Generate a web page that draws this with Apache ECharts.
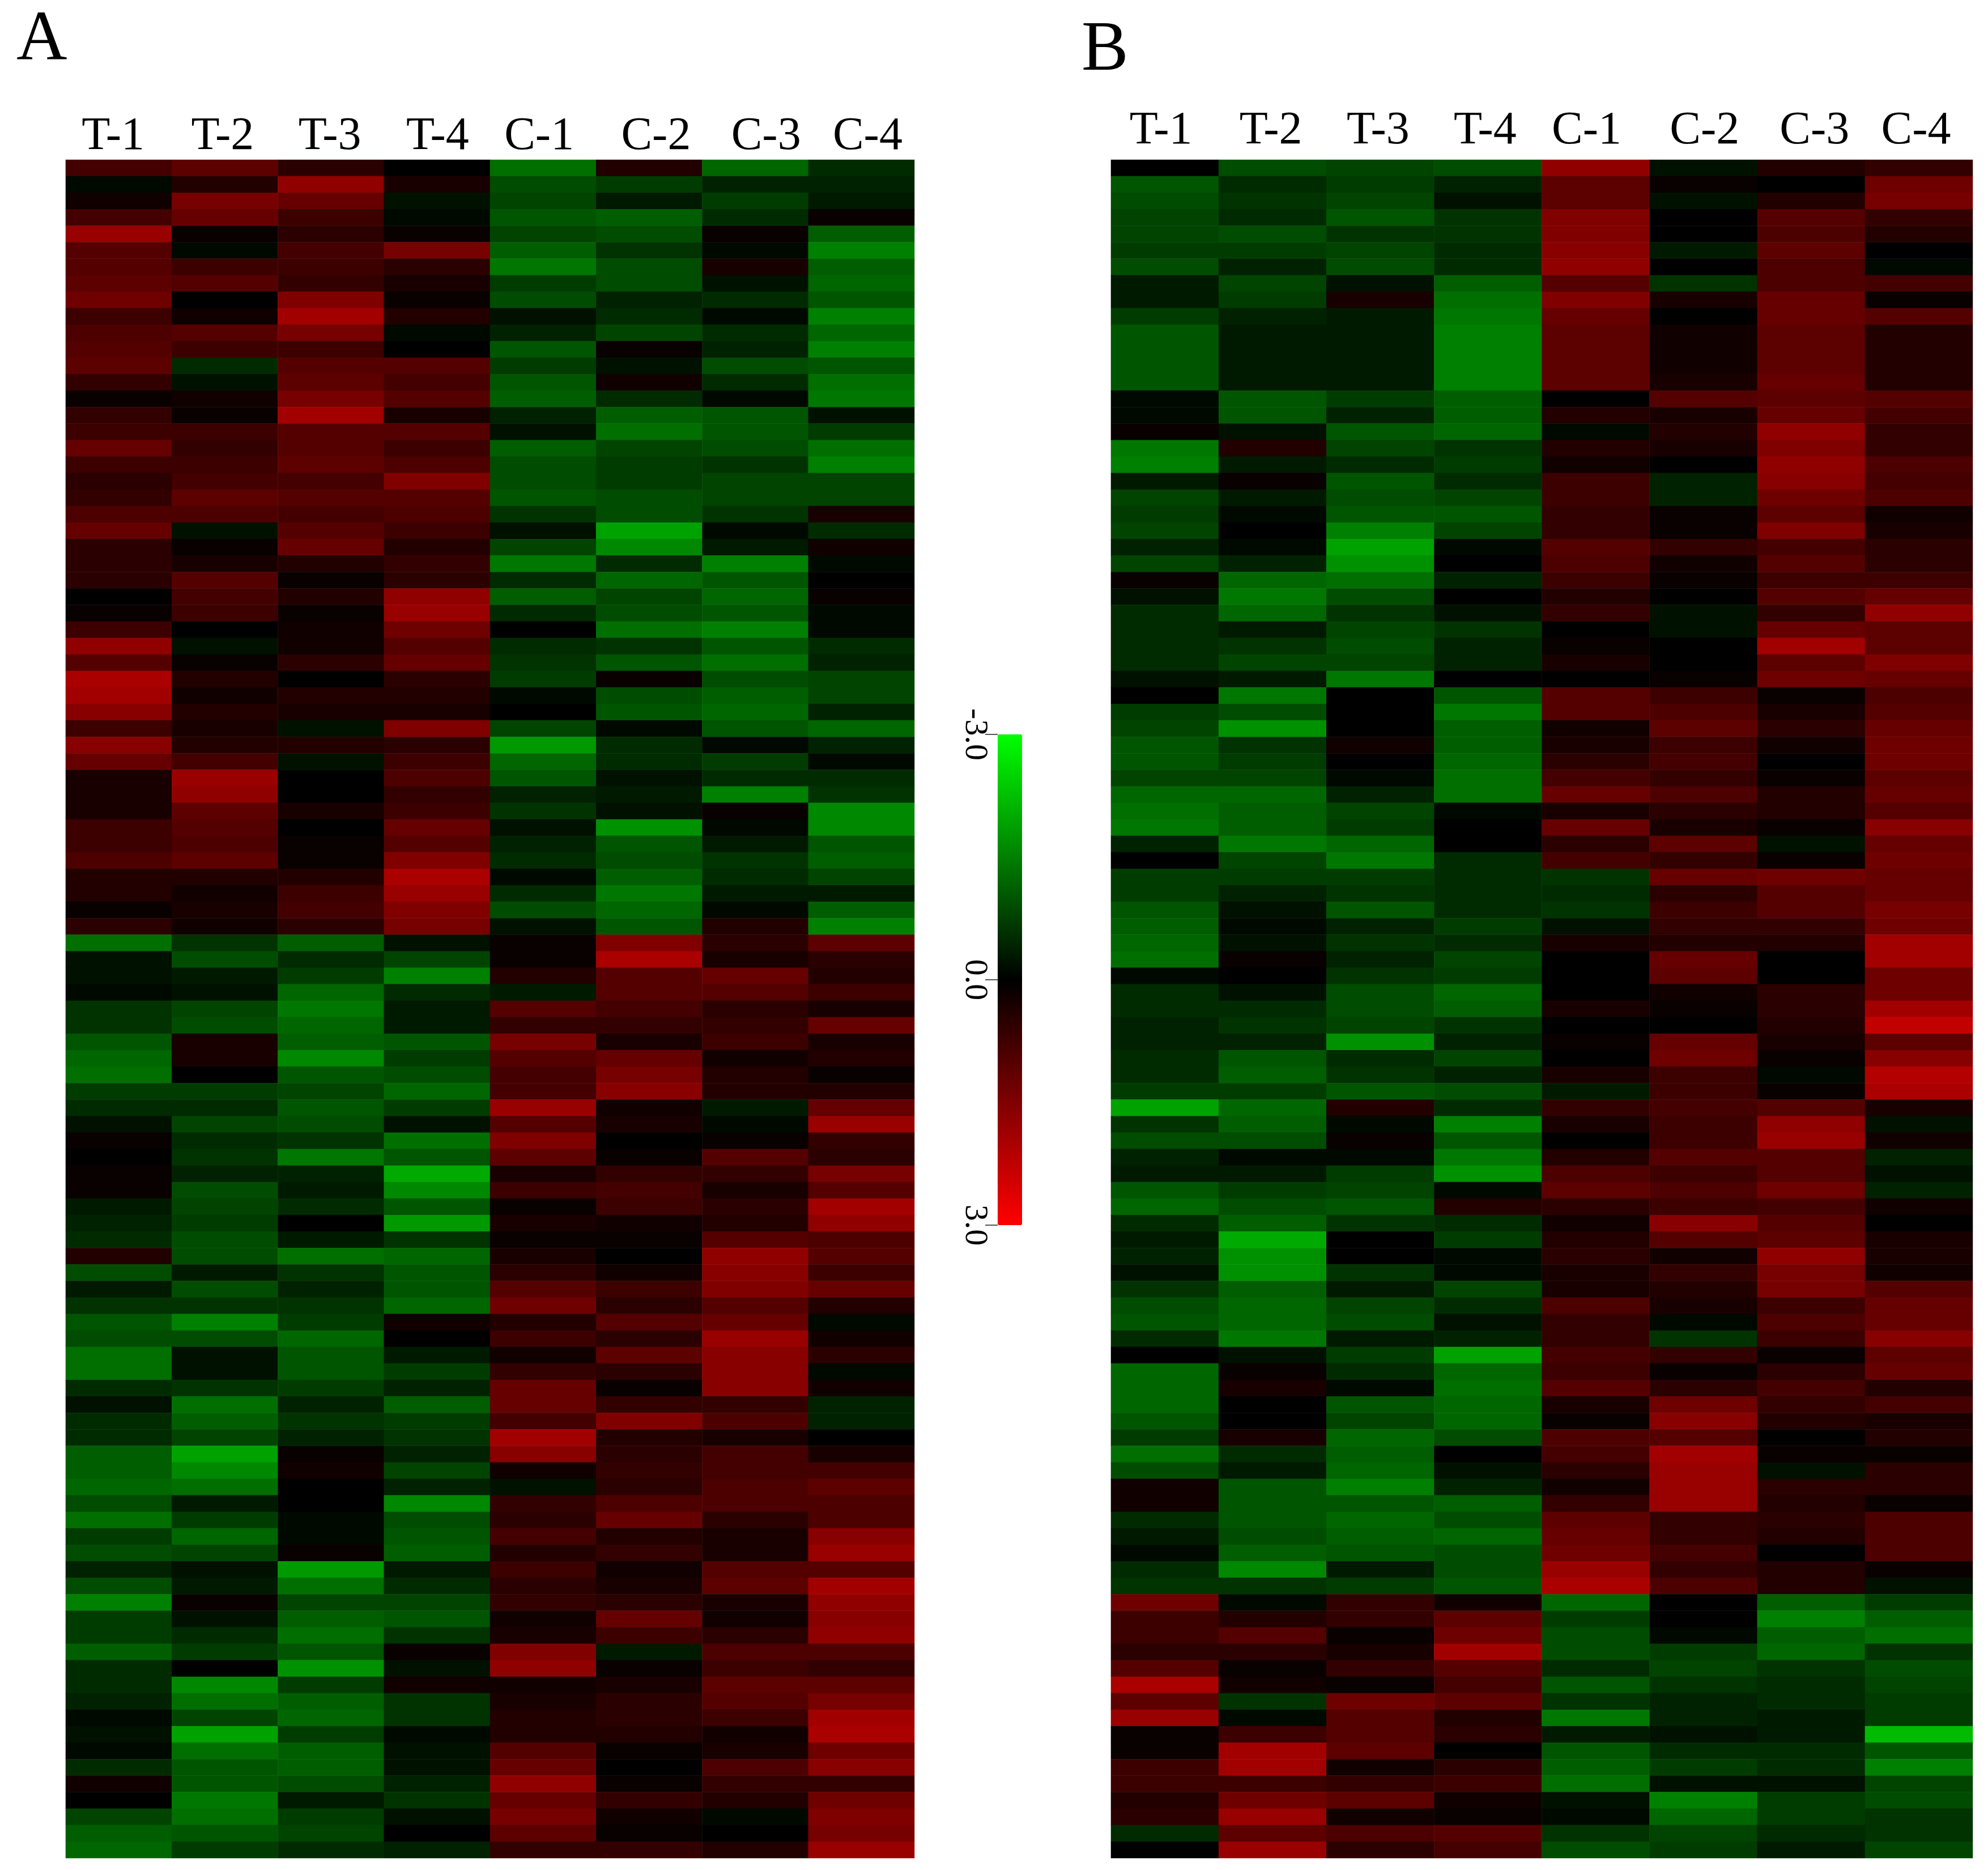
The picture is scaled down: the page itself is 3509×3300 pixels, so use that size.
<!DOCTYPE html>
<html>
<head>
<meta charset="utf-8">
<style>html,body{margin:0;padding:0;background:#fff}#c{width:3509px;height:3300px}</style>
<script src="https://cdn.jsdelivr.net/npm/echarts@6/dist/echarts.min.js"></script>
</head>
<body>
<div id="c"></div>
<script>
var samples = ['T-1','T-2','T-3','T-4','C-1','C-2','C-3','C-4'];
var scaleTicks = [-3,0,3];

// Panel A, one list per sample, rows top to bottom
var A_T1 = [0.8,-0.1,0.2,0.8,1.8,1.0,1.0,1.1,1.3,0.7,0.9,1.0,1.1,0.6,0.1,0.6,0.7,1.2,0.7,0.5,0.6,0.9,1.2,0.5,0.5,
 0.5,0,0.1,0.7,1.7,1.0,2.0,1.9,1.6,0.7,1.6,1.2,0.3,0.3,0.3,0.7,0.7,0.9,0.4,0.4,0.1,0.5,-1.3,-0.2,-0.2,-0.1,-0.6,
 -0.6,-1.0,-1.2,-1.3,-0.7,-0.5,-0.2,0.1,0,0.1,0.1,-0.3,-0.4,-0.5,0.4,-0.9,-0.3,-0.6,-1.0,-0.9,-1.3,-1.3,-0.5,-0.2,-0.5,-0.5,-1.1,-1.1,
 -1.2,-0.9,-1.3,-0.7,-0.9,-0.4,-0.9,-1.5,-0.7,-0.7,-1.1,-0.5,-0.5,-0.4,-0.1,-0.2,-0.1,-0.5,0.2,0,-0.8,-1.1,-1.2];
var A_T2 = [1.1,0.4,1.4,1.2,0.1,-0.1,0.7,1.0,0,0.2,1.0,0.7,-0.5,-0.2,0.2,0.1,0.7,0.6,0.7,0.8,1.1,0.9,-0.2,0.1,0.3,
 1.0,0.8,0.7,0,-0.2,0.1,0.4,0.2,0.4,0.3,0.4,0.8,1.8,1.7,1.1,1.0,0.9,1.1,0.4,0.2,0.3,0.2,-0.6,-0.9,-0.3,-0.2,-0.8,
 -0.9,0.3,0.3,0,-0.7,-0.5,-0.8,-0.5,-0.6,-0.4,-0.9,-0.8,-0.7,-0.9,-0.9,-0.3,-0.9,-0.6,-1.5,-0.9,-0.2,-0.2,-0.6,-1.3,-1.1,-0.8,-1.9,-1.6,
 -1.3,-0.3,-0.7,-1.2,-0.8,-0.2,-0.3,0.1,-0.2,-0.5,-0.7,0,-1.6,-1.3,-0.8,-1.9,-1.3,-1.0,-1.0,-1.4,-1.3,-1.0,-0.7];
var A_T3 = [0.5,1.7,1.2,0.7,0.5,0.8,0.7,0.6,1.5,1.9,1.4,0.7,1.0,1.1,1.4,1.9,1.0,1.0,1.1,0.8,1.0,0.8,1.0,1.2,0.4,
 0.1,0.4,0.1,0.2,0.2,0.5,0,0.4,0.3,-0.2,0.4,-0.2,0,0,0.3,0,0.1,0.1,0.4,0.7,0.8,0.5,-1.1,-0.5,-0.7,-1.2,-1.4,
 -1.2,-1.1,-1.6,-1.0,-0.8,-1.0,-0.9,-0.6,-1.4,-0.4,-0.3,-0.5,0,-0.3,-1.3,-0.6,-0.4,-0.6,-0.7,-1.2,-1.0,-1.0,-0.7,-0.4,-0.6,-0.4,0.1,0.2,
 0,0,-0.1,-0.1,0.1,-1.8,-1.3,-0.8,-1.1,-1.3,-1.0,-1.7,-0.7,-1.1,-1.2,-0.7,-1.1,-1.1,-0.9,-0.3,-0.7,-0.8,-0.5];
var A_T4 = [0,0.3,-0.2,-0.1,0.1,1.4,0.5,0.3,0.1,0.4,-0.1,0,1.0,0.8,1.0,0.3,1.0,0.7,0.9,1.5,1.0,0.9,0.7,0.4,0.6,
 0.5,1.7,1.8,1.3,1.0,1.2,0.5,0.4,0.3,1.5,0.5,0.7,0.9,0.6,0.7,1.2,1.0,1.5,2.0,1.8,1.5,1.4,-0.2,-0.8,-1.5,-0.5,-0.3,
 -0.3,-1.0,-0.7,-0.9,-1.2,-0.7,-0.2,-1.3,-1.0,-2.0,-1.6,-1.0,-1.8,-0.6,-1.2,-1.0,-1.0,-1.2,0.2,0,-0.3,-0.7,-0.4,-1.1,-0.7,-0.6,-0.4,-0.8,
 -0.4,-1.6,-0.9,-1.0,-1.1,-0.3,-0.5,-0.8,-1.0,-0.6,0.1,-0.2,0.2,-0.6,-0.6,-0.1,-0.2,-0.2,-0.4,-0.6,-0.2,0,-0.4];
var A_C1 = [-1.3,-0.9,-0.8,-1.0,-0.8,-1.1,-1.4,-0.7,-0.9,-0.2,-0.4,-1.0,-0.7,-1.0,-1.1,-0.4,-0.2,-1.1,-0.9,-0.9,-1.0,-0.6,-0.2,-0.8,-1.4,
 -0.5,-1.1,-0.5,0,-0.5,-0.6,-0.7,-0.1,0,-0.8,-1.8,-1.2,-1.0,-0.4,-0.6,-0.2,-0.4,-0.5,-0.1,-0.5,-0.9,-0.2,0.1,0.1,0.4,-0.3,1.0,
 0.6,1.4,1.0,0.8,0.8,1.8,1.0,1.5,1.1,0.3,0.7,0.1,0.3,0.1,0.3,0.5,1.0,1.3,0.4,0.7,0.2,0.6,1.2,1.2,0.8,1.9,1.6,0.2,
 -0.2,0.6,0.5,0.8,0.4,0.7,0.5,0.6,0.2,0.3,1.5,1.7,0.2,0.3,0.4,0.4,1.0,1.2,1.7,1.2,1.4,1.1,0.6];
var A_C2 = [0.4,-0.7,-0.3,-1.1,-0.9,-0.6,-0.9,-0.9,-0.4,-0.5,-0.8,0.1,-0.2,0.2,-0.5,-1.1,-1.3,-0.8,-0.7,-0.7,-0.9,-0.9,-1.9,-1.6,-0.5,
 -1.2,-0.8,-0.9,-1.3,-0.6,-1.0,0.1,-0.9,-1.0,-0.1,-0.5,-0.5,-0.2,-0.3,-0.2,-1.7,-1.0,-0.9,-1.1,-1.4,-1.2,-1.0,1.5,2.0,1.0,1.0,0.8,
 0.6,0.3,1.2,1.4,1.6,0.2,0.3,0,0.1,0.6,0.8,0.7,0.2,0.1,0,0.2,0.7,0.5,1.0,0.5,1.1,0.5,0.1,0.6,1.5,0.4,0.5,0.6,
 0.5,0.9,1.2,0.4,0.6,0.2,0.3,0.5,1.2,0.7,-0.3,0.1,0.3,0.5,0.5,0.4,0.1,0,0.1,0.6,0.2,0.1,0.6];
var A_C3 = [-1.2,-0.4,-0.7,-0.5,0.1,-0.1,0.3,-0.2,-0.5,-0.1,-0.5,-0.4,-0.9,-0.5,-0.1,-1.0,-1.0,-0.9,-0.6,-0.8,-0.8,-0.6,-0.1,-0.3,-1.5,
 -1.0,-1.2,-1.0,-1.5,-1.0,-1.3,-0.9,-1.1,-1.2,-1.0,-0.1,-0.7,-0.5,-1.5,0.1,-0.1,-0.3,-0.6,-0.5,-0.3,-0.1,0.4,0.5,0.3,1.2,1.0,0.5,
 0.6,0.7,0.2,0.4,0.4,-0.3,-0.1,0.1,1.0,0.6,0.3,0.5,0.4,1.0,1.7,1.6,1.5,1.0,1.2,1.8,1.6,1.6,1.6,0.6,0.9,0.3,0.8,0.8,
 0.9,0.9,0.5,0.3,0.3,1.0,1.1,0.3,0.2,0.5,0.9,0.7,1.1,1.0,0.7,0.2,0.3,0.9,0.6,0.4,-0.1,0,0.4];
var A_C4 = [-0.5,-0.4,-0.3,0.1,-1.1,-1.5,-1.1,-1.2,-1.0,-1.5,-1.2,-1.5,-1.0,-1.3,-1.4,-0.2,-0.7,-1.3,-1.5,-0.8,-0.8,0.3,-0.5,0.2,-0.1,
 0,0.1,-0.1,-0.1,-0.5,-0.4,-0.8,-0.8,-0.4,-1.2,-0.4,-0.1,-0.5,-0.6,-1.6,-1.6,-1.0,-1.1,-0.8,-0.3,-1.1,-1.5,1.1,0.5,0.4,0.7,0.3,
 1.2,0.3,0.4,0.1,0.4,1.2,1.8,0.6,0.5,1.4,1.0,1.9,1.7,0.9,1.0,0.7,1.2,0.4,-0.1,0.2,0.5,-0.1,0.2,-0.4,-0.4,0,0.3,0.8,
 1.1,0.9,0.9,1.6,1.8,1.0,1.9,1.7,1.6,1.7,0.9,0.6,1.1,1.4,1.9,2.0,1.3,1.6,0.6,1.3,1.5,1.4,1.8];

// Panel B, one list per sample, rows top to bottom
var B_T1 = [0,-1.0,-0.9,-0.8,-0.8,-0.7,-0.9,-0.3,-0.3,-0.7,-1.0,-1.0,-1.0,-1.0,-0.1,-0.1,0.1,-1.4,-1.5,-0.3,-0.8,-0.7,-0.8,-0.4,-0.8,
 0.1,-0.2,-0.5,-0.5,-0.5,-0.5,-0.2,0,-0.7,-0.8,-1.0,-1.0,-0.8,-1.2,-1.3,-1.4,-0.4,0,-0.7,-0.7,-1.0,-1.1,-1.2,-1.3,-0.1,-0.5,-0.5,
 -0.4,-0.4,-0.5,-0.5,-0.7,-1.9,-0.6,-0.9,-0.4,-0.3,-1.0,-1.2,-0.5,-0.3,-0.4,-0.2,-0.6,-0.9,-1.0,-0.5,0,-1.2,-1.2,-1.2,-1.0,-0.7,-1.3,-0.9,
 0.2,0.2,-0.5,-0.3,-0.1,-0.5,-0.6,1.3,0.7,0.7,0.5,1.0,2.0,1.1,1.8,0.1,0.1,0.7,0.7,0.4,0.5,-0.5,0];
var B_T2 = [-0.9,-0.5,-0.6,-0.5,-0.9,-0.7,-0.4,-0.8,-0.7,-0.4,-0.3,-0.3,-0.3,-0.3,-1.0,-1.0,-0.2,0.4,-0.3,0.1,-0.3,-0.1,0,-0.1,-0.4,
 -1.2,-1.4,-1.2,-0.3,-0.6,-0.8,-0.3,-1.4,-0.9,-1.7,-0.6,-0.7,-0.8,-1.2,-1.1,-1.1,-1.4,-0.8,-0.7,-0.4,-0.2,-0.1,-0.2,0.1,0,-0.2,-0.5,
 -0.6,-0.4,-1.0,-1.1,-0.7,-1.2,-1.1,-0.9,-0.1,-0.3,-0.7,-0.9,-1.1,-2.0,-1.7,-1.7,-1.1,-1.2,-1.2,-1.4,-0.2,0.1,0.3,0,0,0.3,-0.5,-0.3,
 -1.0,-1.0,-1.0,-0.9,-1.1,-1.6,-0.6,-0.1,0.4,1.0,0.5,0.1,0.2,-0.6,-0.1,0.7,1.9,1.9,0.7,1.3,1.8,1.1,1.8];
var B_T3 = [-0.8,-0.7,-0.8,-1.0,-0.6,-0.8,-0.9,-0.2,0.3,-0.3,-0.3,-0.3,-0.3,-0.3,-0.7,-0.4,-1.0,-0.8,-0.5,-1.0,-0.9,-1.0,-1.5,-1.9,-1.7,
 -1.3,-0.9,-0.6,-0.8,-0.9,-0.8,-1.4,0,0,0,0.2,0,-0.1,-0.4,-0.8,-0.7,-1.2,-1.4,-0.7,-0.6,-1.0,-0.4,-0.6,-0.4,-0.6,-0.9,-0.9,
 -0.8,-1.7,-0.5,-0.6,-1.0,0.4,-0.1,0.1,-0.1,-0.7,-0.8,-1.0,-0.6,0,0,-0.6,-0.3,-0.8,-0.9,-0.3,-0.7,-0.5,-0.1,-1.0,-0.8,-1.2,-1.1,-1.2,
 -1.5,-1.0,-1.2,-1.1,-1.0,-0.3,-0.7,0.6,0.6,0.1,0.3,0.6,0.1,1.3,1.0,1.0,1.1,0.2,0.6,1.1,0.2,0.9,0.5];
var B_T4 = [-0.9,-0.4,-0.2,-0.6,-0.6,-0.5,-0.5,-1.1,-1.3,-1.4,-1.5,-1.5,-1.5,-1.5,-1.1,-1.1,-1.2,-0.6,-0.7,-0.5,-0.8,-1.0,-0.8,-0.1,0,
 -0.4,0,-0.2,-0.6,-0.4,-0.4,0,-1.0,-1.4,-1.1,-1.1,-1.2,-1.3,-1.3,-0.1,0,0,-0.5,-0.5,-0.5,-0.5,-0.7,-0.5,-0.8,-0.7,-1.2,-1.1,
 -0.6,-0.4,-0.8,-0.4,-0.9,-0.5,-1.5,-1.0,-1.4,-1.7,-0.1,0.4,-0.5,-0.7,-0.1,-0.1,-0.8,-0.5,-0.2,-0.4,-1.9,-1.2,-1.3,-1.2,-1.2,-0.9,0,-0.2,
 -0.4,-1.1,-0.9,-1.2,-0.9,-0.9,-1.0,0.2,1.1,1.3,1.9,1.0,0.8,1.1,0.4,0.5,0,0.5,0.7,0.2,0.1,1.0,0.8];
var B_C1 = [1.7,1.1,1.1,1.5,1.5,1.6,1.7,1.0,1.5,1.2,1.1,1.1,1.1,1.1,0,0.4,-0.1,0.4,0.2,0.7,0.7,0.6,0.6,1.0,0.9,
 0.7,0.4,0.6,0,0.1,0.3,0,1.0,1.0,0.2,0.3,0.5,0.8,1.2,0.3,1.2,0.5,0.8,-0.6,-0.5,-0.6,-0.2,0.3,0,0,0,0.3,
 0,0.1,0,0.3,-0.3,0.6,0.3,0,0.4,0.9,1.1,0.5,0.2,0.4,0.5,0.3,0.3,0.9,0.6,0.6,0.8,0.7,1.0,0.3,0.1,0.9,0.8,0.5,
 0.2,0.6,1.1,1.2,1.3,1.8,2.0,-1.2,-0.7,-0.9,-0.9,-0.5,-1.0,-0.6,-1.4,-0.3,-1.0,-1.1,-1.3,-0.2,-0.1,-0.6,-0.9];
var B_C2 = [-0.2,0.1,-0.2,0,0,-0.3,0,-0.6,0.3,0,0.2,0.2,0.2,0.3,1.0,0.3,0.4,0.3,0,-0.4,-0.4,0.1,0.1,0.6,0.2,
 0.1,0,-0.2,-0.2,0,0,0.1,0.7,0.9,1.1,0.7,0.8,0.6,0.9,0.5,0.3,1.1,0.6,1.2,0.5,0.7,0.6,0.4,1.2,1.1,0.2,0.1,
 0,1.2,1.3,0.7,0.7,0.8,0.7,0.7,1.0,0.7,0.9,0.7,1.6,1.0,0.2,0.6,0.4,0.3,-0.1,-0.6,0.6,0.1,0.5,1.3,1.6,1.0,1.9,1.8,
 1.8,1.8,0.6,0.6,0.8,0.6,0.9,0,0,-0.1,-0.7,-0.8,-0.6,-0.4,-0.4,-0.2,-0.5,-0.7,-0.2,-1.5,-1.2,-0.8,-0.7];
var B_C3 = [0.4,0,0.4,1.0,0.9,1.1,0.9,0.9,1.2,1.2,1.1,1.1,1.1,1.2,1.1,1.2,1.7,1.5,1.7,1.6,1.3,1.1,1.5,0.8,1.0,
 0.7,1.0,0.6,1.2,1.9,1.1,1.3,0.1,0.3,0.5,0.2,0,0.1,0.4,0.4,0.1,-0.2,0.1,1.3,1.0,1.0,0.6,0.4,0,0,0.5,0.5,
 0.4,0.3,0.1,-0.1,0.1,1.0,1.7,1.8,1.0,1.0,1.3,0.8,1.0,1.1,1.7,1.4,1.4,0.7,0.9,0.7,0.1,0.5,0.8,0.6,0.4,0,0.1,-0.2,
 0.5,0.4,0.5,0.4,0,0.4,0.4,-1.1,-1.5,-1.1,-1.2,-0.6,-0.5,-0.5,-0.3,-0.3,-0.5,-0.5,-0.2,-0.7,-0.7,-0.5,-0.3];
var B_C4 = [0.6,1.3,1.4,0.6,0.4,0,-0.1,0.8,0.1,1.0,0.4,0.4,0.4,0.4,1.0,0.8,0.6,0.6,0.9,0.8,0.9,0.2,0.3,0.5,0.5,
 0.7,1.2,1.7,1.1,1.1,1.5,1.2,0.9,1.0,1.2,1.3,1.3,1.1,1.2,1.0,1.6,1.2,1.3,1.2,1.2,1.4,1.3,1.9,1.9,1.3,1.3,1.9,
 2.3,1.1,1.6,2.1,2.0,0.3,-0.2,0.2,-0.4,-0.2,-0.4,0.2,0,0.3,0.3,0.2,1.0,1.2,1.2,1.6,1.1,1.2,0.4,0.8,0.3,0.4,0.1,0.5,
 0.5,0.1,0.9,0.9,0.9,0.1,-0.2,-0.7,-1.1,-1.3,-0.6,-0.9,-0.8,-0.7,-0.7,-2.2,-1.0,-1.5,-0.8,-0.9,-0.6,-0.6,-0.8];

var panelA = [A_T1,A_T2,A_T3,A_T4,A_C1,A_C2,A_C3,A_C4];
var panelB = [B_T1,B_T2,B_T3,B_T4,B_C1,B_C2,B_C3,B_C4];
var rowCount = A_T1.length;
var rows = [];
for (var r = 0; r < rowCount; r++) rows.push(String(r));

function cells(panel) {
  var out = [];
  panel.forEach(function (col, x) {
    col.forEach(function (v, y) { out.push([x, y, v]); });
  });
  return out;
}
var FONT = '"Liberation Serif"';
function richFor(shifts) {
  var rich = {};
  shifts.forEach(function (s, i) {
    rich['l' + i] = {
      fontFamily: FONT, fontSize: 82, color: '#000',
      padding: s >= 0 ? [0, 0, 0, 2 * s] : [0, -2 * s, 0, 0]
    };
  });
  return rich;
}
function topAxis(grid, margin, shifts) {
  return {
    type: 'category', gridIndex: grid, position: 'top', data: samples,
    axisLine: {show: false}, axisTick: {show: false}, splitLine: {show: false},
    axisLabel: {
      show: true, interval: 0, margin: margin,
      formatter: function (v, i) { return '{l' + i + '|' + v + '}'; },
      rich: richFor(shifts)
    }
  };
}
function rowAxis(grid) {
  return {type: 'category', gridIndex: grid, data: rows, inverse: true, show: false};
}
var chart = echarts.init(document.getElementById('c'), null, {renderer: 'canvas'});
chart.setOption({
  animation: false,
  backgroundColor: '#fff',
  title: [
    {text: 'A', left: 24, top: 5, textStyle: {fontFamily: FONT, fontSize: 124, fontWeight: 'normal', color: '#000'}},
    {text: 'B', left: 1904, top: 23, textStyle: {fontFamily: FONT, fontSize: 124, fontWeight: 'normal', color: '#000'}}
  ],
  grid: [
    {left: 116, top: 282, width: 1498, height: 2997},
    {left: 1961, top: 282, width: 1521, height: 2997},
    {left: 1761, top: 1296, width: 43, height: 866}
  ],
  xAxis: [
    topAxis(0, 0, [-10,-4,-2,1,-7,12,19,11]),
    topAxis(1, 10, [-7,-3,-4,-5,-16,2,6,-5]),
    {type: 'category', gridIndex: 2, data: [''], show: false}
  ],
  yAxis: [
    rowAxis(0),
    rowAxis(1),
    {
      type: 'value', gridIndex: 2, min: -3, max: 3, interval: 3, inverse: true, position: 'left',
      axisLine: {show: false}, splitLine: {show: false},
      axisTick: {show: true, length: 22, inside: false, lineStyle: {color: '#555', width: 2}},
      axisLabel: {
        show: true, rotate: -90, margin: 12, fontFamily: FONT, fontSize: 58, color: '#000',
        customValues: scaleTicks,
        formatter: function (v) { return v.toFixed(1); }
      }
    }
  ],
  visualMap: {
    type: 'continuous', min: -3, max: 3, seriesIndex: [0, 1], calculable: false, realtime: false,
    inverse: true, orient: 'vertical', left: 1761, top: 1296, itemWidth: 43, itemHeight: 866,
    text: null, showLabel: false, hoverLink: false, padding: 0,
    inRange: {color: ['#00ff00', '#000000', '#ff0000']}
  },
  series: [
    {type: 'heatmap', xAxisIndex: 0, yAxisIndex: 0, data: cells(panelA), progressive: 0, emphasis: {disabled: true}},
    {type: 'heatmap', xAxisIndex: 1, yAxisIndex: 1, data: cells(panelB), progressive: 0, emphasis: {disabled: true}}
  ]
});
</script>
</body>
</html>
